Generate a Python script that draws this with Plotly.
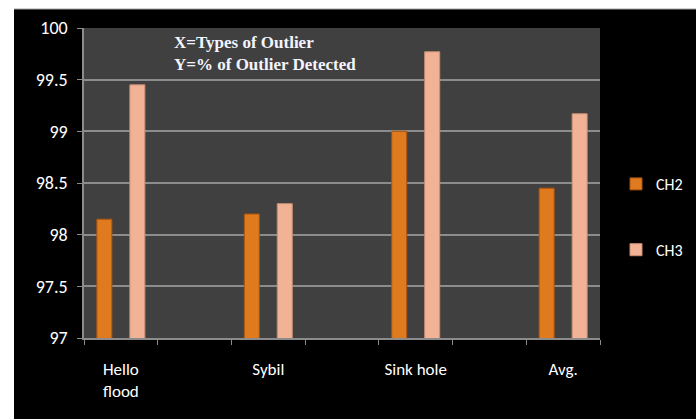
import plotly.graph_objects as go

categories = ["Hello<br>flood", " ", "Sybil", "  ", "Sink hole", "   ", "Avg."]
tick_text = ["Hello<br>flood", "", "Sybil", "", "Sink hole", "", "Avg."]
ch2 = [98.15, None, 98.2, None, 99.0, None, 98.45]
ch3 = [99.45, None, 98.3, None, 99.77, None, 99.17]
y_ticks = [97, 97.5, 98, 98.5, 99, 99.5, 100]

W, H = 696, 419
ML, MR, MT, MB = 84, 96, 28, 81
PW, PH = W - ML - MR, H - MT - MB

def px(x):
    return (x - ML) / PW

def py(y):
    return 1 - (y - MT) / PH

fig = go.Figure()
fig.add_trace(go.Bar(
    x=categories, y=ch2, name="CH2", legendgroup="a",
    marker=dict(color="#E07A1F", line=dict(color="#A9530F", width=1)),
))
fig.add_trace(go.Bar(
    x=categories, y=ch3, name="CH3", legendgroup="b",
    marker=dict(color="#F2B295", line=dict(color="#C98E74", width=1)),
))

fig.update_layout(
    width=W, height=H,
    margin=dict(l=ML, r=MR, t=MT, b=MB, autoexpand=False),
    paper_bgcolor="#000000",
    plot_bgcolor="#404040",
    barmode="group",
    bargap=0.105,
    bargroupgap=0.545,
    font=dict(family="Carlito, Calibri, Liberation Sans, sans-serif", color="#FFFFFF", size=16),
    legend=dict(
        x=px(616), y=py(167), xanchor="left", yanchor="top",
        bgcolor="rgba(0,0,0,0)", traceorder="grouped", tracegroupgap=42,
        itemwidth=30,
        font=dict(size=16, color="#FFFFFF"),
    ),
    showlegend=True,
)

fig.update_xaxes(
    type="category", tickson="boundaries", ticks="outside", ticklen=5,
    tickcolor="#8C8C8C", showline=True, linecolor="#8C8C8C", linewidth=1.5,
    tickvals=categories, ticktext=tick_text, showgrid=False, tickangle=0,
    automargin=False,
    tickfont=dict(size=17, color="#FFFFFF"), ticklabelstandoff=15,
)
fig.update_yaxes(
    range=[97, 100], tickvals=y_ticks,
    ticktext=[f"{v:g}" for v in y_ticks],
    ticks="outside", ticklen=5, tickcolor="#8C8C8C",
    showline=True, linecolor="#8C8C8C", linewidth=1.5, automargin=False,
    showgrid=True, gridcolor="#8C8C8C", gridwidth=1.5, zeroline=False,
    tickfont=dict(size=18, color="#FFFFFF"), ticklabelstandoff=6,
)

fig.add_annotation(
    xref="paper", yref="paper", x=px(172), y=py(31), xanchor="left", yanchor="top",
    text="<b>X=Types of Outlier<br>Y=% of Outlier Detected</b>", showarrow=False,
    align="left", font=dict(family="Liberation Serif, Times New Roman, serif", size=17, color="#F4F4FF"),
)

# white outer margin (top and left) as in the reference
fig.add_shape(type="rect", xref="paper", yref="paper", x0=px(0), x1=px(14), y0=py(H), y1=py(0),
              fillcolor="#FFFFFF", line=dict(width=0), layer="above")
fig.add_shape(type="rect", xref="paper", yref="paper", x0=px(0), x1=px(W), y0=py(9), y1=py(0),
              fillcolor="#FFFFFF", line=dict(width=0), layer="above")
fig.add_shape(type="line", xref="paper", yref="paper", x0=px(14), x1=px(W), y0=py(9), y1=py(9),
              line=dict(color="#A0A0A0", width=1), layer="above")

fig.write_html("out.html")
